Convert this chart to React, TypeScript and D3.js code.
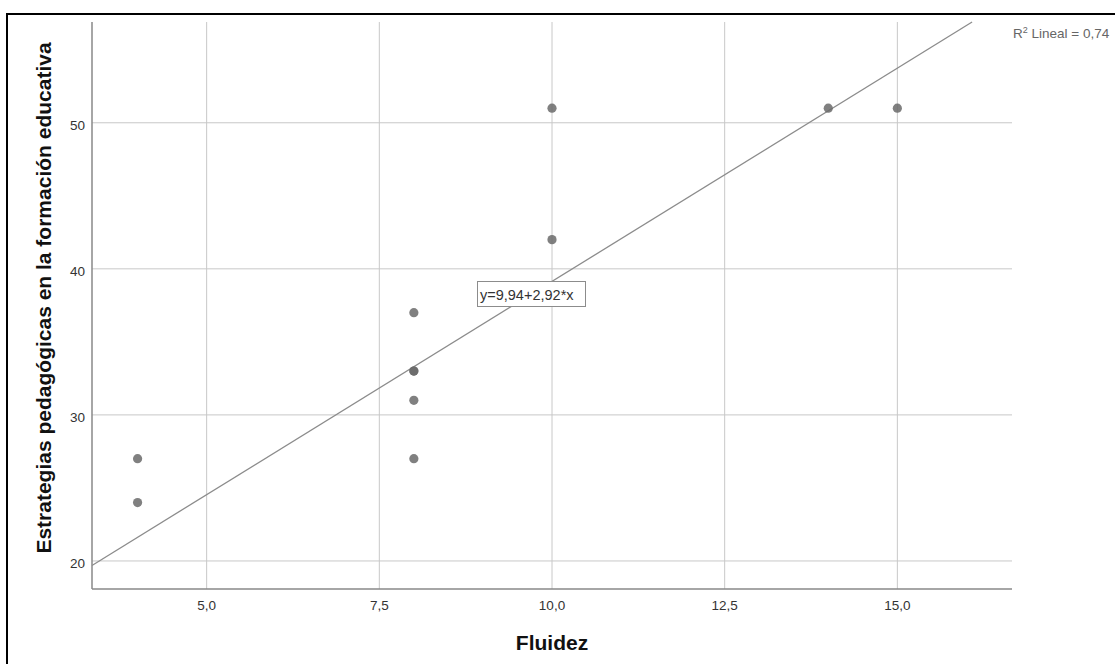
import React from "react";
import * as d3 from "d3";

const fluidez = [4, 4, 8, 8, 8, 8, 8, 10, 10, 14, 15];
const estrategias = [27, 24, 37, 33, 33, 31, 27, 51, 42, 51, 51];
const xTicks = [5, 7.5, 10, 12.5, 15];
const yTicks = [20, 30, 40, 50];
const intercept = 9.94;
const slope = 2.92;
const fitLabel = "y=9,94+2,92*x";
const r2Label = "0,74";

const W = 1115;
const H = 664;

export default function App() {
  const x = d3.scaleLinear().domain([3.34, 16.66]).range([92, 1012]);
  const y = d3.scaleLinear().domain([18.08, 56.9]).range([589, 22]);
  const fmtX = (v: number) => d3.format(".1f")(v).replace(".", ",");
  const [x0, x1] = x.domain();
  const yTop = y.domain()[1];
  const xEnd = Math.min(x1, (yTop - intercept) / slope);
  const line = d3.line<number>()
    .x((d) => x(d))
    .y((d) => y(intercept + slope * d));
  const font = "'Liberation Sans', Arial, sans-serif";
  return (
    <svg width={W} height={H} style={{ position: "absolute", left: 0, top: 0, background: "#fff" }} fontFamily={font}>
      <rect x={7} y={14} width={W + 10} height={H + 10} fill="#fff" stroke="#000" strokeWidth={2} />
      {xTicks.map((t) => (
        <line key={"gx" + t} x1={x(t)} x2={x(t)} y1={22} y2={589} stroke="#c8c8c8" strokeWidth={1} />
      ))}
      {yTicks.map((t) => (
        <line key={"gy" + t} x1={92} x2={1012} y1={y(t)} y2={y(t)} stroke="#c8c8c8" strokeWidth={1} />
      ))}
      <line x1={92} x2={92} y1={22} y2={589} stroke="#888" strokeWidth={1.5} />
      <line x1={92} x2={1012} y1={589} y2={589} stroke="#888" strokeWidth={1.5} />
      {xTicks.map((t) => (
        <text key={"tx" + t} x={x(t)} y={610} textAnchor="middle" fontSize={13.5} fill="#333">{fmtX(t)}</text>
      ))}
      {yTicks.map((t) => (
        <text key={"ty" + t} x={85} y={y(t) + 7} textAnchor="end" fontSize={13.5} fill="#333">{t}</text>
      ))}
      <path d={line([x0, xEnd]) || ""} stroke="#8c8c8c" strokeWidth={1.3} fill="none" />
      {fluidez.map((v, i) => (
        <circle key={"p" + i} cx={x(v)} cy={y(estrategias[i])} r={4.6} fill="#6a6a6a" fillOpacity={0.85} />
      ))}
      <rect x={477.5} y={281.5} width={108} height={25} fill="#fff" stroke="#8c8c8c" strokeWidth={1} />
      <text x={480} y={299.5} fontSize={14.5} fill="#333">{fitLabel}</text>
      <text x={1013} y={37.5} fontSize={13.5} fill="#666">
        R<tspan dy={-5} fontSize={9}>2</tspan><tspan dy={5}> Lineal = {r2Label}</tspan>
      </text>
      <text x={552} y={650} textAnchor="middle" fontSize={21} fontWeight="bold" fill="#111">Fluidez</text>
      <text transform={`translate(51,298) rotate(-90)`} textAnchor="middle" fontSize={21} fontWeight="bold" fill="#111">
        Estrategias pedagógicas en la formación educativa
      </text>
    </svg>
  );
}
